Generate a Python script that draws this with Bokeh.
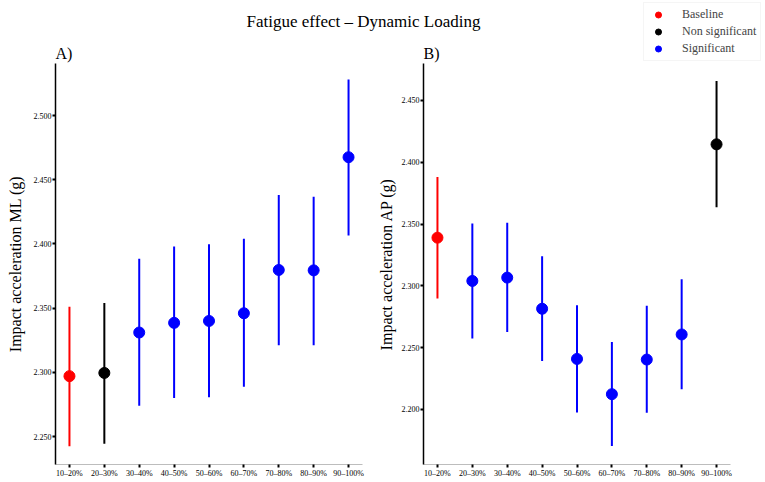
from bokeh.plotting import figure
from bokeh.models import (Range1d, FixedTicker, NumeralTickFormatter, ColumnDataSource,
                          Legend, LegendItem)
from bokeh.layouts import column, row
from bokeh.core.properties import value
from bokeh.embed import file_html
from bokeh.resources import INLINE

# ---------------- data ----------------
categories = ["10–20%", "20–30%", "30–40%", "40–50%", "50–60%",
              "60–70%", "70–80%", "80–90%", "90–100%"]

ml_mean = [2.297, 2.2995, 2.331, 2.3385, 2.340, 2.346, 2.3797, 2.3794, 2.4675]
ml_lo = [2.2425, 2.2443, 2.274, 2.2799, 2.2805, 2.2888, 2.321, 2.321, 2.4065]
ml_hi = [2.351, 2.354, 2.3885, 2.398, 2.3997, 2.404, 2.438, 2.4367, 2.528]
ml_status = ["Baseline", "Non significant", "Significant", "Significant", "Significant",
             "Significant", "Significant", "Significant", "Significant"]

ap_mean = [2.339, 2.304, 2.3067, 2.2815, 2.2409, 2.2124, 2.2404, 2.2607, 2.4145]
ap_lo = [2.2898, 2.2575, 2.2627, 2.2393, 2.1976, 2.1705, 2.1974, 2.2164, 2.3637]
ap_hi = [2.388, 2.3505, 2.351, 2.324, 2.2844, 2.2546, 2.2839, 2.3054, 2.4658]
ap_status = ["Baseline", "Significant", "Significant", "Significant", "Significant",
             "Significant", "Significant", "Significant", "Non significant"]

ml_ticks = [2.25, 2.30, 2.35, 2.40, 2.45, 2.50]
ap_ticks = [2.20, 2.25, 2.30, 2.35, 2.40, 2.45]

status_colors = {"Baseline": "#FF0000", "Non significant": "#000000", "Significant": "#0000FF"}
legend_order = ["Baseline", "Non significant", "Significant"]

FONT = "Liberation Serif"

# ---------------- header figure (title, panel tags, legend) ----------------
top = figure(width=765, height=63, x_range=Range1d(0, 765), y_range=Range1d(63, 0),
             output_backend="svg", toolbar_location=None, min_border=0)
top.axis.visible = False
top.grid.visible = False
top.outline_line_color = None

top.text(x=[363], y=[21], text=["Fatigue effect – Dynamic Loading"],
         text_font=value(FONT), text_font_size="17px", text_color="#000000",
         text_align="center", text_baseline="alphabetic")
top.text(x=[55, 423], y=[53, 53], text=["A)", "B)"],
         text_font=value(FONT), text_font_size="16px", text_color="#000000",
         text_align="left", text_baseline="alphabetic")

items = []
for s in legend_order:
    r = top.scatter(x=[-50], y=[-50], size=5, color=status_colors[s])
    items.append(LegendItem(label=s, renderers=[r]))
leg = Legend(items=items, location=(643, 2), label_text_font=FONT,
             label_text_font_size="12px", label_height=15, glyph_height=15,
             glyph_width=20, spacing=2, padding=4, label_standoff=14,
             border_line_color="#ebebeb", border_line_width=1,
             background_fill_color="white", margin=0)
top.add_layout(leg)


def make_panel(width, border_left, border_right, y_range, ticks, mean, lo, hi, status,
               ylabel, label_standoff):
    p = figure(width=width, height=419, x_range=Range1d(0.6, 9.4), y_range=y_range,
               output_backend="svg", toolbar_location=None,
               min_border_left=border_left, min_border_right=border_right,
               min_border_top=0, min_border_bottom=18)
    p.grid.visible = False
    p.outline_line_color = None
    xs = list(range(1, len(categories) + 1))
    colors = [status_colors[s] for s in status]
    src = ColumnDataSource(dict(x=xs, mean=mean, lo=lo, hi=hi, color=colors))
    p.segment(x0="x", y0="lo", x1="x", y1="hi", color="color", line_width=2, source=src)
    p.scatter(x="x", y="mean", size=11, color="color", source=src)

    # x axis
    p.xaxis.ticker = FixedTicker(ticks=xs)
    p.xaxis.major_label_overrides = {i + 1: c for i, c in enumerate(categories)}
    p.xaxis.axis_line_color = "#bdbdbd"
    p.xaxis.axis_line_width = 1
    p.xaxis.major_tick_line_color = "#000000"
    p.xaxis.major_tick_line_width = 2
    p.xaxis.major_tick_in = 0
    p.xaxis.major_tick_out = 3
    p.xaxis.minor_tick_line_color = None
    p.xaxis.major_label_standoff = 1
    p.xaxis.major_label_text_font = FONT
    p.xaxis.major_label_text_font_size = "8px"
    p.xaxis.major_label_text_color = "#000000"

    # y axis
    p.yaxis.ticker = FixedTicker(ticks=ticks)
    p.yaxis.formatter = NumeralTickFormatter(format="0.000")
    p.yaxis.axis_line_color = "#000000"
    p.yaxis.axis_line_width = 1.5
    p.yaxis.major_tick_line_color = "#000000"
    p.yaxis.major_tick_line_width = 2
    p.yaxis.major_tick_in = 0
    p.yaxis.major_tick_out = 3
    p.yaxis.minor_tick_line_color = None
    p.yaxis.major_label_standoff = 1
    p.yaxis.major_label_text_font = FONT
    p.yaxis.major_label_text_font_size = "8px"
    p.yaxis.major_label_text_color = "#000000"
    p.yaxis.axis_label = ylabel
    p.yaxis.axis_label_text_font = FONT
    p.yaxis.axis_label_text_font_style = "normal"
    p.yaxis.axis_label_text_font_size = "16px"
    p.yaxis.axis_label_text_color = "#000000"
    p.yaxis.axis_label_standoff = label_standoff
    return p


p1 = make_panel(372, 55, 10, Range1d(2.2282, 2.5405), ml_ticks,
                ml_mean, ml_lo, ml_hi, ml_status, "Impact acceleration ML (g)", 7)
p2 = make_panel(393, 51, 35, Range1d(2.1555, 2.4799), ap_ticks,
                ap_mean, ap_lo, ap_hi, ap_status, "Impact acceleration AP (g)", 4)

layout = column(top, row(p1, p2))
open("out.html", "w").write(file_html(layout, INLINE))
